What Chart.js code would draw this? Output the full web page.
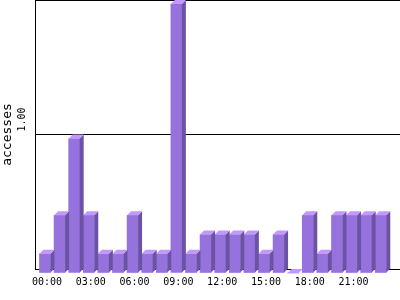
<!DOCTYPE html>
<html>
<head>
<meta charset="utf-8">
<script src="https://cdn.jsdelivr.net/npm/chart.js@4/dist/chart.umd.min.js"></script>
<style>
  html, body { margin: 0; padding: 0; background: #fff; }
  #contenedor { width: 400px; height: 300px; }
</style>
</head>
<body>
<div id="contenedor"><canvas id="grafica"></canvas></div>
<script>
// horas del dia (categorias)
var horas = ['00:00', '01:00', '02:00', '03:00', '04:00', '05:00', '06:00', '07:00',
             '08:00', '09:00', '10:00', '11:00', '12:00', '13:00', '14:00', '15:00',
             '16:00', '17:00', '18:00', '19:00', '20:00', '21:00', '22:00', '23:00'];
// accesos medios por hora
var accesos = [0.143, 0.429, 1.0, 0.429, 0.143, 0.143, 0.429, 0.143,
               0.143, 2.0, 0.143, 0.286, 0.286, 0.286, 0.286, 0.143,
               0.286, 0, 0.429, 0.143, 0.429, 0.429, 0.429, 0.429];
// horas que llevan etiqueta en el eje x
var horasEtiqueta = [0, 3, 6, 9, 12, 15, 18, 21];
// marcas del eje y
var marcasY = [0, 1, 2];

var colorFrente = '#9673dc';
var colorLado = '#6c52a5';
var colorTapa = '#c298fc';
var DX = 4, DY = 4; // profundidad de las barras

// dibuja la cara lateral y la tapa de cada barra
var barras3d = {
  id: 'barras3d',
  beforeDatasetDraw: function(chart) {
    chart.ctx.save();
    chart.ctx.translate(-DX / 2, DY);
  },
  afterDatasetDraw: function(chart, args) {
    var ctx = chart.ctx;
    ctx.restore();
    args.meta.data.forEach(function(bar) {
      var p = bar.getProps(['x', 'y', 'base', 'width'], true);
      var x1 = p.x - DX / 2 - p.width / 2;
      var x2 = x1 + p.width;
      var yt = p.y + DY;
      var yb = p.base + DY;
      ctx.fillStyle = colorLado;
      ctx.beginPath();
      ctx.moveTo(x2, yt);
      ctx.lineTo(x2 + DX, yt - DY);
      ctx.lineTo(x2 + DX, yb - DY);
      ctx.lineTo(x2, yb);
      ctx.closePath();
      ctx.fill();
      ctx.fillStyle = colorTapa;
      ctx.beginPath();
      ctx.moveTo(x1, yt);
      ctx.lineTo(x1 + DX, yt - DY);
      ctx.lineTo(x2 + DX, yt - DY);
      ctx.lineTo(x2, yt);
      ctx.closePath();
      ctx.fill();
    });
  }
};

// etiquetas del eje y giradas
var etiquetasY = {
  id: 'etiquetasY',
  afterDraw: function(chart) {
    var s = chart.scales.y, ctx = chart.ctx;
    ctx.save();
    ctx.font = '10px "DejaVu Sans Mono"';
    ctx.fillStyle = '#000';
    ctx.textAlign = 'left';
    ctx.textBaseline = 'middle';
    s.ticks.forEach(function(t) {
      if (t.value <= s.min || t.value >= s.max) return;
      ctx.save();
      ctx.translate(s.right - 12.5, s.getPixelForValue(t.value) - 3);
      ctx.rotate(-Math.PI / 2);
      ctx.fillText(t.value.toFixed(2), 0, 0);
      ctx.restore();
    });
    ctx.restore();
  }
};

var ctx = document.getElementById('grafica').getContext('2d');
var grafica = new Chart(ctx, {
  type: 'bar',
  data: {
    datasets: [{
      label: 'accesses',
      data: accesos.map(function(v, i) { return { x: i, y: v }; }),
      backgroundColor: colorFrente,
      borderWidth: 0,
      barThickness: 11,
      clip: false
    }]
  },
  options: {
    responsive: true,
    maintainAspectRatio: false,
    animation: false,
    layout: { padding: 0 },
    plugins: {
      legend: { display: false },
      tooltip: { enabled: false }
    },
    scales: {
      x: {
        type: 'linear',
        min: -0.82,
        max: 24.18,
        offset: false,
        z: 1,
        afterBuildTicks: function(s) {
          s.ticks = horasEtiqueta.map(function(v) { return { value: v }; });
        },
        afterFit: function(s) { s.height = 31; },
        grid: { display: false, drawTicks: false },
        border: { color: '#000', width: 1 },
        ticks: {
          color: '#000',
          font: { family: 'DejaVu Sans Mono', size: 10 },
          padding: 7,
          maxRotation: 0,
          autoSkip: false,
          callback: function(v) { return horas[v]; }
        }
      },
      y: {
        min: 0,
        max: 2,
        afterBuildTicks: function(s) {
          s.ticks = marcasY.map(function(v) { return { value: v }; });
        },
        afterFit: function(s) { s.width = 35; },
        grid: { color: '#000', drawTicks: false },
        border: { color: '#000' },
        ticks: { display: false },
        title: {
          display: true,
          text: 'accesses',
          color: '#000',
          font: { family: 'DejaVu Sans Mono', size: 13 },
          padding: 0
        }
      }
    }
  },
  plugins: [barras3d, etiquetasY]
});
</script>
</body>
</html>
